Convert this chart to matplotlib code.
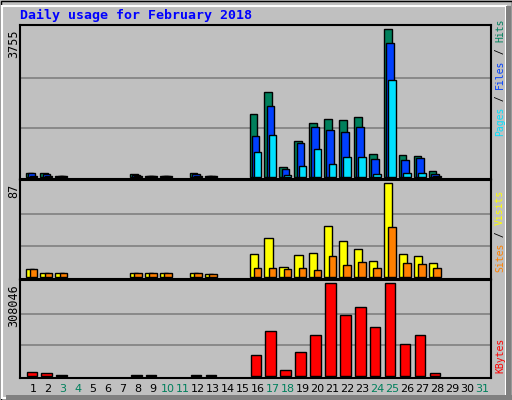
import matplotlib
matplotlib.use("Agg")
import matplotlib.pyplot as plt
from matplotlib.patches import Rectangle

days = list(range(1, 32))
hits  = [100,85,20,0,0,0,0,60,20,20,0,85,20,0,0,1589,2149,238,900,1359,1461,1436,1512,569,3755,544,518,136,0,0,0]
files = [85,70,20,0,0,0,0,50,20,20,0,70,20,0,0,1028,1793,187,850,1257,1181,1130,1257,442,3398,416,467,76,0,0,0]
pages = [20,15,20,0,0,0,0,20,20,20,0,15,20,0,0,620,1053,34,263,697,314,493,493,59,2455,85,85,25,0,0,0]
visits = [7,3,3,0,0,0,0,3,3,3,0,3,2,0,0,21,36,9,20,22,47,33,26,15,87,21,19,13,0,0,0]
sites  = [7,3,3,0,0,0,0,3,3,3,0,3,2,0,0,8,8,7,8,6,19,11,14,8,46,13,12,8,0,0,0]
kbytes = [11500,8000,2000,0,0,0,0,2000,2000,0,0,2000,2000,0,0,68580,149500,18000,78700,136000,308046,203500,230500,163000,308046,105700,136000,7870,0,0,0]
weekends = [3,4,10,11,17,18,24,25,31]
title = "Daily usage for February 2018"

W, H = 512, 400
fig = plt.figure(figsize=(W/100, H/100), dpi=100)
fig.patch.set_facecolor("#c0c0c0")
GRAY = "#c0c0c0"

fig.add_artist(Rectangle((0.5/W, 0.5/H), 1-1/W, 1-1/H, transform=fig.transFigure, fill=False, ec="black", lw=1))
fig.add_artist(Rectangle((2/W, 2/H), 1-8/W, 1-8/H, transform=fig.transFigure, fill=False, ec="white", lw=1.5))
fig.add_artist(Rectangle((6/W, 0), 1-6/W, 5/H, transform=fig.transFigure, fc="#808080", ec="none"))
fig.add_artist(Rectangle((1-6/W, 0), 5/W, 1-6/H, transform=fig.transFigure, fc="#808080", ec="none"))

def mkax(top, bot):
    ax = fig.add_axes([20/W, 1-bot/H, (491-20)/W, (bot-top)/H])
    ax.set_facecolor(GRAY)
    ax.set_xlim(0.131, 31.67)
    for s in ax.spines.values():
        s.set_color("black"); s.set_linewidth(1.5)
    ax.set_xticks([]); ax.set_yticks([])
    return ax

ek = dict(edgecolor="black", linewidth=1, align="edge")

def bars(ax, vals, off, w, col):
    xs = [d+off for d, v in zip(days, vals) if v > 0]
    vs = [v for v in vals if v > 0]
    ax.bar(xs, vs, width=w, color=col, **ek)

ax1 = mkax(25, 179)
ax1.set_ylim(-59, 3864)
for f in (1/3, 2/3):
    ax1.axhline(max(hits)*f, color="#808080", lw=1.2, zorder=0)
bars(ax1, hits, -0.5, 0.51, "#00805c")
bars(ax1, files, -0.35, 0.51, "#0040ff")
bars(ax1, pages, -0.21, 0.5, "#00e0ff")

ax2 = mkax(180, 279)
ax2.set_ylim(-2.2, 90.1)
for f in (1/3, 2/3):
    ax2.axhline(max(visits)*f, color="#808080", lw=1.2, zorder=0)
bars(ax2, visits, -0.5, 0.55, "#ffff00")
bars(ax2, sites, -0.21, 0.5, "#ff8000")

ax3 = mkax(280, 378)
ax3.set_ylim(-7750, 319170)
for f in (1/3, 2/3):
    ax3.axhline(max(kbytes)*f, color="#808080", lw=1.2, zorder=0)
bars(ax3, kbytes, -0.43, 0.7, "#ff0000")

for d in days:
    x = 33 + (d-1)*14.967
    fig.text(x/W, 1-389/H, str(d), ha="center", va="center", fontsize=8,
             color="#00805c" if d in weekends else "black")

fig.text(20/W, 1-15/H, title, ha="left", va="center", fontsize=9.5, color="#0000ff",
         family="DejaVu Sans Mono", fontweight="bold")

fig.text(14/W, 1-29/H, f"{max(hits)}", rotation=90, ha="center", va="top", fontsize=8.5, family="DejaVu Sans Mono")
fig.text(14/W, 1-184/H, f"{max(visits)}", rotation=90, ha="center", va="top", fontsize=8.5, family="DejaVu Sans Mono")
fig.text(14/W, 1-284/H, f"{max(kbytes)}", rotation=90, ha="center", va="top", fontsize=8.5, family="DejaVu Sans Mono")

CH = 7 * 0.602 * 100 / 72  # px per char
def rlabel(ybot, parts):
    y = ybot
    for txt, col in parts:
        fig.text(500/W, 1-y/H, txt, rotation=90, ha="center", va="bottom", fontsize=7,
                 color=col, family="DejaVu Sans Mono")
        y -= len(txt)*CH
rlabel(136, [("Pages", "#00e0ff"), (" / ", "black"), ("Files", "#0040ff"), (" / ", "black"), ("Hits", "#00805c")])
rlabel(272, [("Sites", "#ff8000"), (" / ", "black"), ("Visits", "#ffff00")])
rlabel(373, [("KBytes", "#ff0000")])

fig.savefig("out.png", dpi=100, facecolor=fig.get_facecolor())
